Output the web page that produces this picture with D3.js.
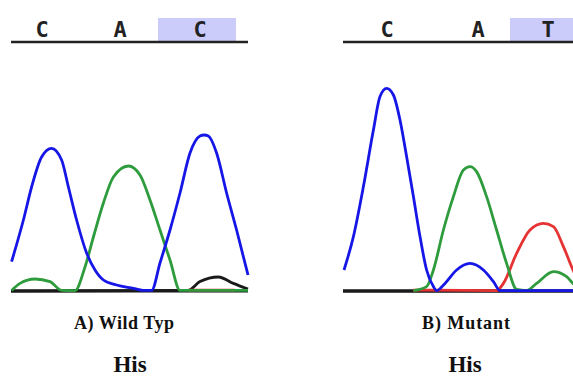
<!DOCTYPE html>
<html><head><meta charset="utf-8">
<script src="https://cdn.jsdelivr.net/npm/d3@7/dist/d3.min.js"></script>
<style>html,body{margin:0;padding:0;background:#fff;overflow:hidden}</style>
</head><body><svg id="c" width="573" height="378"></svg>
<script>
// ---------- data (scan position, signal intensity) ----------
const basesA = ["C", "A", "C"];
const basePosA = [15.5, 54.5, 94.5];
const highlightA = [73.5, 112.5];

const basesB = ["C", "A", "T"];
const basePosB = [22, 67.5, 102.5];
const highlightB = [83.5, 122.5];

const blueA = [[0.3,14.7],[6.2,35.5],[10.3,52],[15.3,67],[20.3,71.3],[25.3,65.5],[28.7,52],[32.8,35.5],[37.8,19],[42,10.5],[46.2,5.5],[52.8,3],[61.2,1.3],[66,0.3],[70.3,0.3],[74.5,14],[79.5,30.5],[84.5,49],[89.5,69],[94.5,77.5],[96.6,78],[98.7,77.5],[102.8,69],[107.8,49],[112.8,30.5],[118.5,8]];
const greenA = [[0.3,0.3],[4.5,3.8],[12,6],[19.5,4.7],[25.3,0.3],[32,0.2],[37,12],[41.2,27],[46.2,44],[51.2,57],[58.7,62.5],[64.5,58],[69.5,45.5],[74.5,30.5],[79.5,15.5],[84.5,0.3],[118.5,0.3]];
const blackA = [[0,0],[88.5,0.3],[94.5,4.7],[103.7,7],[111.2,3.8],[118.5,1]];
const redA = [[88.7,0.4],[112,0.4]];

const blueB = [[0.5,10.5],[5.2,27.2],[10.2,52.2],[15.2,80.5],[18.5,97.2],[21.8,101.3],[25.2,98],[28.5,85.5],[31.8,67.2],[35.2,47.2],[38.5,27.2],[41.8,10.5],[45.2,2.2],[46.8,0.2],[51,3.8],[56.8,10.5],[63.5,13.8],[70.2,10.5],[75.2,4.7],[78.5,0.2],[122,0.2]];
const greenB = [[35.2,0.2],[41.8,2.2],[45.2,10.5],[50.2,30.5],[55.2,47.2],[60.2,60.5],[63.5,62.2],[66.8,59.7],[71.8,47.2],[76.8,30.5],[81.8,13.8],[86.8,0.8],[91.8,0.2],[96.8,3.8],[105.2,9.7],[111.8,7.2],[115,3.8],[120.2,0.2]];
const redB = [[35,0.4],[43.5,0.4],[76.8,0.2],[80.2,3.8],[86.8,18.8],[93.5,30.5],[100.2,33.8],[105.2,32.2],[110.2,22.2],[115,10.5],[120.2,0.2]];
const blackB = [[0,0],[122,0]];

const captions = ["A) Wild Typ", "B) Mutant"];
const aminoAcids = ["His", "His"];

// ---------- layout ----------
const colors = {blue: "#1616e6", green: "#2e9c3c", red: "#e53232", black: "#1a1a1a"};
const panels = [
  {x0: 11, x1: 251, end: 118.5, bases: basesA, pos: basePosA, hl: highlightA,
   traces: [[blackA, "black"], [redA, "red"], [greenA, "green"], [blueA, "blue"]],
   caption: captions[0], capX: 124, capLen: 100, aa: aminoAcids[0], aaX: 130},
  {x0: 343, x1: 583, end: 122, bases: basesB, pos: basePosB, hl: highlightB,
   traces: [[blackB, "black"], [redB, "red"], [greenB, "green"], [blueB, "blue"]],
   caption: captions[1], capX: 466, capLen: 88, aa: aminoAcids[1], aaX: 465}
];

const svg = d3.select("#c");
svg.append("rect").attr("width", 573).attr("height", 378).attr("fill", "#fff");

const y = d3.scaleLinear().domain([0, 100]).range([291, 91]);

panels.forEach(p => {
  const x = d3.scaleLinear().domain([0, 120]).range([p.x0, p.x1]);
  const g = svg.append("g");

  // base-call header
  g.append("rect")
    .attr("x", x(p.hl[0])).attr("y", 18)
    .attr("width", x(p.hl[1]) - x(p.hl[0])).attr("height", 24)
    .attr("fill", "#ccccfa");
  g.append("line")
    .attr("x1", x(0)).attr("x2", x(p.end))
    .attr("y1", 42).attr("y2", 42)
    .attr("stroke", "#222").attr("stroke-width", 2.5);
  g.selectAll("text.base").data(p.bases).join("text")
    .attr("class", "base")
    .attr("x", (d, i) => x(p.pos[i])).attr("y", 37)
    .attr("text-anchor", "middle")
    .attr("font-family", "DejaVu Sans Mono")
    .attr("font-weight", "bold")
    .attr("font-size", 22)
    .attr("fill", "#222")
    .text(d => d);

  // baseline
  g.append("line")
    .attr("x1", x(0)).attr("x2", x(p.end))
    .attr("y1", y(0)).attr("y2", y(0))
    .attr("stroke", "#111").attr("stroke-width", 3);

  // traces
  const line = d3.line().x(d => x(d[0])).y(d => y(d[1])).curve(d3.curveMonotoneX);
  p.traces.forEach(([data, c]) => {
    g.append("path").datum(data)
      .attr("d", line)
      .attr("fill", "none")
      .attr("stroke", colors[c])
      .attr("stroke-width", 2.8)
      .attr("stroke-linejoin", "round");
  });

  // captions
  g.append("text")
    .attr("x", p.capX).attr("y", 329)
    .attr("text-anchor", "middle")
    .attr("font-family", "Liberation Serif")
    .attr("font-weight", "bold")
    .attr("font-size", 18)
    .attr("textLength", p.capLen).attr("lengthAdjust", "spacing")
    .attr("fill", "#111")
    .text(p.caption);
  g.append("text")
    .attr("x", p.aaX).attr("y", 372)
    .attr("text-anchor", "middle")
    .attr("font-family", "Liberation Serif")
    .attr("font-weight", "bold")
    .attr("font-size", 23)
    .attr("fill", "#111")
    .text(p.aa);
});
</script>
</body></html>
